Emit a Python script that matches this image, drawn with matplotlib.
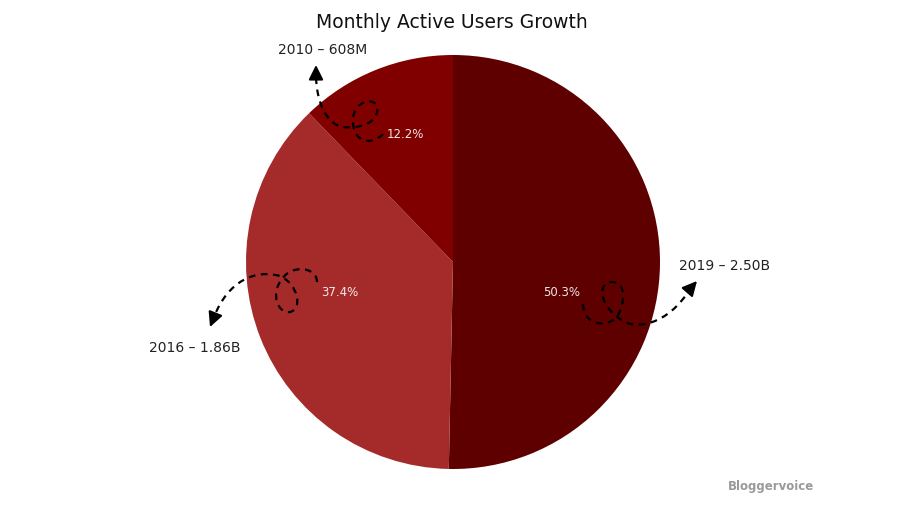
import matplotlib
matplotlib.use("Agg")
import matplotlib.pyplot as plt
from matplotlib.path import Path
from matplotlib.patches import PathPatch

# data
years = ["2019", "2016", "2010"]
users = [2.50, 1.86, 0.608]
user_labels = ["2.50B", "1.86B", "608M"]
colors = ["#5e0000", "#a52a2a", "#800000"]

# pie centre / radius in pixels (900x506 canvas)
CX, CY, R = 453, 263, 207


def px(x, y):
    return ((x - CX) / R, (CY - y) / R)


fig = plt.figure(figsize=(9, 5.06), dpi=100)
ax = fig.add_axes([0, 0, 1, 1])

wedges, texts, autotexts = ax.pie(
    users, colors=colors, startangle=90, counterclock=False,
    autopct="%1.1f%%", radius=1,
    textprops=dict(color="white", fontsize=8.5, alpha=0.9),
)

ax.set_xlim(-CX / R, (900 - CX) / R)
ax.set_ylim((CY - 506) / R, CY / R)
ax.set_aspect("auto")
ax.axis("off")

# percentage text positions
pct_pos = [px(562, 292), px(340, 293), px(405, 134)]
for t, p in zip(autotexts, pct_pos):
    t.set_position(p)

# outside labels
label_pos = [px(725, 266), px(195, 348), px(323, 50)]
for y, l, p in zip(years, user_labels, label_pos):
    ax.text(p[0], p[1], f"{y} \u2013 {l}", ha="center", va="center",
            fontsize=10, color="#222222")

# curly dashed arrows (pixel control points)
curls = [
    [(583, 305), (583, 325), (605, 330), (617, 318),
     (625, 305), (627, 283), (612, 283),
     (598, 283), (598, 305), (620, 320),
     (635, 332), (668, 326), (690, 290)],
    [(317, 283), (317, 268), (292, 265), (282, 280),
     (270, 295), (278, 315), (290, 313),
     (303, 310), (298, 285), (280, 277),
     (255, 270), (228, 282), (214, 318)],
    [(383, 135), (372, 147), (352, 144), (353, 120),
     (354, 100), (380, 96), (377, 113),
     (375, 125), (358, 130), (342, 128),
     (325, 124), (316, 100), (316, 76)],
]
heads = [((690, 290), (697, 282)), ((214, 318), (210, 328)), ((316, 76), (316, 66))]

for pts, (tail, tip) in zip(curls, heads):
    verts = [px(*p) for p in pts]
    codes = [Path.MOVETO] + [Path.CURVE4] * (len(verts) - 1)
    ax.add_patch(PathPatch(Path(verts, codes), fill=False, lw=1.6,
                           ls=(0, (3, 2.5)), edgecolor="black", clip_on=False))
    ax.annotate("", xy=px(*tip), xytext=px(*tail),
                arrowprops=dict(arrowstyle="-|>", color="black", lw=1.5,
                                mutation_scale=22, shrinkA=0, shrinkB=0))

fig.text(452 / 900, 1 - 22 / 506, "Monthly Active Users Growth",
         ha="center", va="center", fontsize=13.5, color="#111111")
fig.text(771 / 900, 1 - 487 / 506, "Bloggervoice", ha="center", va="center",
         fontsize=8.5, fontweight="bold", color="#9a9a9a")

fig.savefig("out.png", dpi=100)
